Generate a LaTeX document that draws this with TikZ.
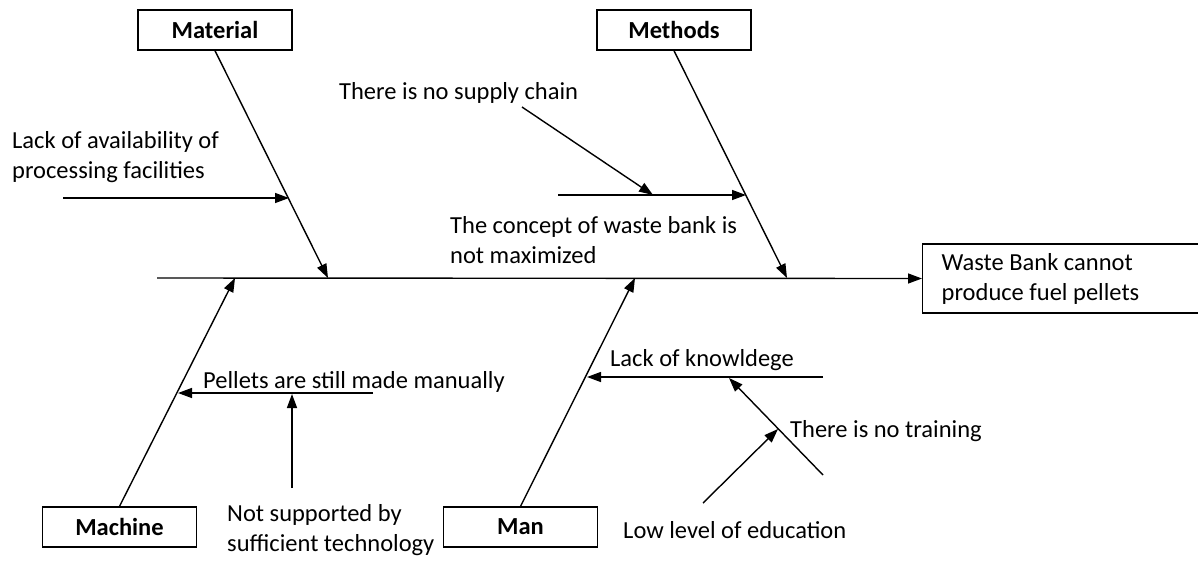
\documentclass[tikz,border=0pt]{standalone}
\usepackage{fontspec}
\setmainfont{Carlito}
\usetikzlibrary{arrows.meta, positioning}

\begin{document}
\begin{tikzpicture}[
		x=1pt, y=-1pt,
		every node/.style={font=\fontsize{24.5}{30}\selectfont, inner sep=0pt},
		arrow/.style={-{Triangle[length=14pt, width=10pt]}, line width=1.4pt},
		category/.style={draw, line width=1.4pt, minimum width=154pt, minimum height=40pt, font=\fontsize{24.5}{28}\selectfont\bfseries},
		cause/.style={anchor=west, align=left}
		]
		\useasboundingbox (0,0) rectangle (1198,560);
		
		% Categories
		\node[category] (material) at (215,30) {Material};
		\node[category] (methods) at (674,30) {Methods};
		\node[category] (machine) at (119.5,527) {Machine};
		\node[category] (man) at (520.5,527) {Man};
		
		% Effect
		\node[draw, line width=1.4pt, anchor=west, minimum height=69pt, text width=245pt, inner xsep=19pt, align=flush left] (effect) at (922,278.5) {Waste Bank cannot\\produce fuel pellets};
		
		% Causes
		\node[cause] (facilities) at (12,157) {Lack of availability of\\processing facilities};
		\node[cause] (supply) at (339,93) {There is no supply chain};
		\node[cause] (concept) at (450,240) {The concept of waste bank is\\not maximized};
		\node[cause] (manually) at (203,382) {Pellets are still made manually};
		\node[cause] (technology) at (227,530) {Not supported by\\sufficient technology};
		\node[cause] (knowledge) at (610,360) {Lack of knowldege};
		\node[cause] (training) at (790,431) {There is no training};
		\node[cause] (education) at (623,530) {Low level of education};
		
		% Points on the bones
		\coordinate (tail) at (157,278);
		\coordinate (matTip) at (328,278);
		\coordinate (metTip) at (787,278);
		\coordinate (macTip) at (235,278);
		\coordinate (manTip) at (635,278);
		\coordinate (facA) at (63,198);
		\coordinate (facB) at (289,198);
		\coordinate (conA) at (558,195);
		\coordinate (conB) at (746,195);
		\coordinate (supA) at (522,107);
		\coordinate (supB) at (653,195);
		\coordinate (pelA) at (373,393);
		\coordinate (pelB) at (178,393);
		\coordinate (tecA) at (292,488);
		\coordinate (tecB) at (292,394);
		\coordinate (knoA) at (823,377);
		\coordinate (knoB) at (587,377);
		\coordinate (traA) at (823,475);
		\coordinate (traB) at (729,378);
		\coordinate (eduA) at (703,503);
		\coordinate (eduB) at (778,429);
		
		% Spine and bones
		\draw[arrow] (tail) -- (effect.west);
		\draw[arrow] (material.south) -- (matTip);
		\draw[arrow] (methods.south) -- (metTip);
		\draw[arrow] (machine.north) -- (macTip);
		\draw[arrow] (man.north) -- (manTip);
		
		% Sub-causes
		\draw[arrow] (facA) -- (facB);
		\draw[arrow] (conA) -- (conB);
		\draw[arrow] (supA) -- (supB);
		\draw[arrow] (pelA) -- (pelB);
		\draw[arrow] (tecA) -- (tecB);
		\draw[arrow] (knoA) -- (knoB);
		\draw[arrow] (traA) -- (traB);
		\draw[arrow] (eduA) -- (eduB);
		
	\end{tikzpicture}
\end{document}
